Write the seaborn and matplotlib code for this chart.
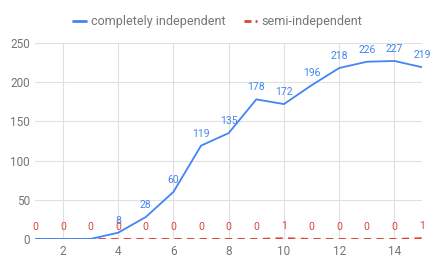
import matplotlib
matplotlib.use("Agg")
import matplotlib.pyplot as plt
import seaborn as sns
import pandas as pd
from matplotlib.lines import Line2D

x_vals = list(range(1, 16))
completely = [0, 0, 0, 8, 28, 60, 119, 135, 178, 172, 196, 218, 226, 227, 219]
semi = [0, 0, 0, 0, 0, 0, 0, 0, 0, 1, 0, 0, 0, 0, 1]
series_names = ["completely independent", "semi-independent"]
x_ticks = [2, 4, 6, 8, 10, 12, 14]
y_ticks = [0, 50, 100, 150, 200, 250]

sns.set_theme(style="white")
plt.rcParams['font.family'] = ['Roboto', 'DejaVu Sans']

blue = "#4285f4"
red = "#db4437"
grey_text = "#757575"

df = pd.DataFrame({
    "x": x_vals * 2,
    "y": completely + semi,
    "series": [series_names[0]] * len(x_vals) + [series_names[1]] * len(x_vals),
})

fig = plt.figure(figsize=(4.36, 2.7), dpi=100)
ax = fig.add_axes([0.081, 0.115, 0.887, 0.726])

sns.lineplot(data=df[df.series == series_names[1]], x="x", y="y", ax=ax,
             color=red, linewidth=1.3, linestyle=(0, (4, 3)), legend=False, zorder=3)
sns.lineplot(data=df[df.series == series_names[0]], x="x", y="y", ax=ax,
             color=blue, linewidth=1.3, legend=False, zorder=4)

for xv, yv in zip(x_vals, completely):
    if yv > 0:
        ax.annotate(str(yv), (xv, yv), xytext=(0, 5), textcoords="offset points",
                    ha="center", va="bottom", fontsize=7.5, color=blue, zorder=5)
for xv, yv in zip(x_vals, semi):
    ax.annotate(str(yv), (xv, yv), xytext=(0, 5), textcoords="offset points",
                ha="center", va="bottom", fontsize=7.5, color=red, zorder=5,
                annotation_clip=False)

ax.set_xlim(1, 15)
ax.set_ylim(0, 250)
ax.set_xticks(x_ticks)
ax.set_yticks(y_ticks)
ax.grid(True, color="#e0e0e0", linewidth=0.8)
ax.axhline(0, color="#9e9e9e", linewidth=0.9, zorder=2)
for s in ax.spines.values():
    s.set_visible(False)
ax.tick_params(axis="both", length=0, labelsize=8.5, labelcolor=grey_text, pad=4)
ax.set_xlabel("")
ax.set_ylabel("")

handles = [Line2D([0], [0], color=blue, linewidth=2),
           Line2D([0], [0], color=red, linewidth=2, linestyle=(0, (2.5, 1.5)))]
fig.legend(handles, series_names, loc="center", bbox_to_anchor=(0.5, 0.92),
           ncol=2, frameon=False, fontsize=9, labelcolor=grey_text,
           handlelength=1.0, handletextpad=0.4, columnspacing=1.5)

fig.savefig("out.png", dpi=100)
